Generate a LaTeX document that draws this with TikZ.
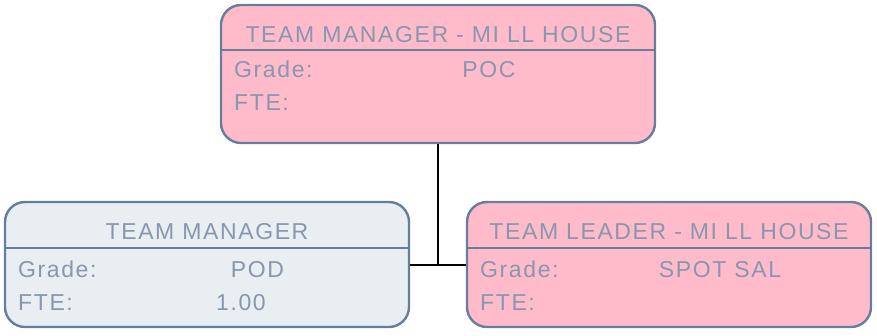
\documentclass[tikz,border=0pt]{standalone}
\usepackage{fontspec}
\newfontfamily\boxfont{Liberation Sans}[LetterSpace=7]
\usepackage{xcolor}
\usepackage{tikz}
\usetikzlibrary{positioning,calc}

\definecolor{boxline}{HTML}{687D9C}
\definecolor{boxtext}{HTML}{8797AE}
\definecolor{pinkfill}{HTML}{FFBBC9}
\definecolor{greyfill}{HTML}{E8EEF1}

\begin{document}
\begin{tikzpicture}[
  x=1pt, y=-1pt,
  card/.style={rectangle, draw=boxline, line width=2.4pt, rounded corners=20pt,
               minimum width=#1, inner sep=0pt},
  pinkcard/.style={card=434pt, fill=pinkfill, minimum height=138pt},
  greycard/.style={card=404pt, fill=greyfill, minimum height=125pt},
  rosecard/.style={card=404pt, fill=pinkfill, minimum height=125pt},
  divider/.style={draw=boxline, line width=2.4pt},
  title/.style={font=\boxfont\fontsize{23}{25}\selectfont, text=boxtext,
                anchor=base, inner sep=0pt},
  field/.style={font=\boxfont\fontsize{23}{25}\selectfont, text=boxtext,
                anchor=base west, inner sep=0pt},
  value/.style={font=\boxfont\fontsize{23}{25}\selectfont, text=boxtext,
                anchor=base, inner sep=0pt},
  link/.style={draw=black, line width=2pt},
]
\useasboundingbox (0,0) rectangle (877,335);

% Cards
\node[pinkcard] (mgr) at (438,74) {};
\node[greycard] (tm) at (207,264.5) {};
\node[rosecard] (tl) at (669,264.5) {};

% Dividers
\draw[divider] (mgr.west |- 0,50) -- (mgr.east |- 0,50);
\draw[divider] (tm.west |- 0,248) -- (tm.east |- 0,248);
\draw[divider] (tl.west |- 0,248) -- (tl.east |- 0,248);

% Titles
\node[title] (mgrtitle) at (438,42.5) {TEAM MANAGER - MI LL HOUSE};
\node[title] (tmtitle) at (207,239.5) {TEAM MANAGER};
\node[title] (tltitle) at (669,239.5) {TEAM LEADER - MI LL HOUSE};

% Fields
\node[field] (mgrgrade) at (234,77) {Grade:};
\node[field] (mgrfte) at (234,110) {FTE:};
\node[value] (mgrgv) at (489,77) {POC};

\node[field] (tmgrade) at (18,277) {Grade:};
\node[field] (tmfte) at (18,310) {FTE:};
\node[value] (tmgv) at (257.5,277) {POD};
\node[value] (tmfv) at (241,310) {1.00};

\node[field] (tlgrade) at (480,277) {Grade:};
\node[field] (tlfte) at (480,310) {FTE:};
\node[value] (tlgv) at (720,277) {SPOT SAL};

% Links
\coordinate (joint) at (mgr.south |- tm.east);
\draw[link] (mgr.south) -- (joint);
\draw[link] (tm.east) -- (tl.west);

\end{tikzpicture}
\end{document}
